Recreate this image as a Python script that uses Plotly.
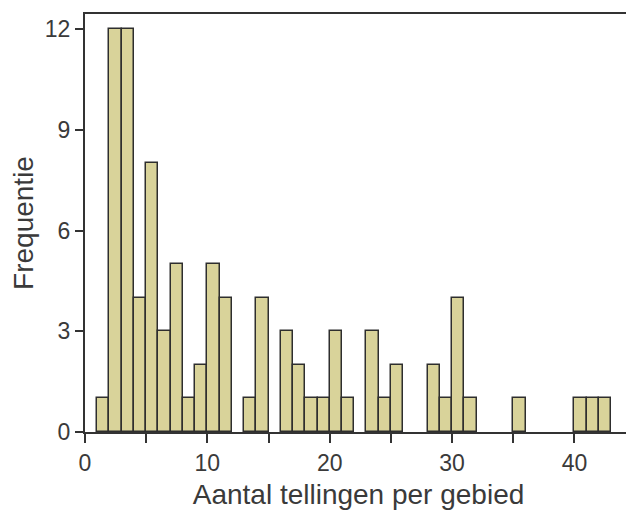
import plotly.graph_objects as go

bin_start = list(range(1, 43))
counts = [1, 12, 12, 4, 8, 3, 5, 1, 2, 5,
          4, 0, 1, 4, 0, 3, 2, 1, 1, 3,
          1, 0, 3, 1, 2, 0, 0, 2, 1, 4,
          1, 0, 0, 0, 1, 0, 0, 0, 0, 1,
          1, 1]
x_tickvals = [0, 5, 10, 15, 20, 25, 30, 35, 40, 45]
x_ticktext = ["0", "", "10", "", "20", "", "30", "", "40", ""]
y_tickvals = [0, 3, 6, 9, 12]

centers = [b + 0.5 for b in bin_start]
heights = [c if c > 0 else None for c in counts]

fig = go.Figure(go.Bar(
    x=centers, y=heights, width=1,
    marker=dict(color="#d9d39a", line=dict(color="#2e2e2e", width=1.5)),
))

font_col = "#3a3a3a"
fig.update_layout(
    width=626, height=505,
    margin=dict(l=77, r=2, t=6, b=81),
    paper_bgcolor="white", plot_bgcolor="white",
    font=dict(family="Liberation Sans, Arial, sans-serif", color=font_col, size=23),
    showlegend=False,
    bargap=0,
)
fig.update_xaxes(
    range=[0, 44.7], tickvals=x_tickvals, ticktext=x_ticktext,
    ticks="outside", ticklen=9, tickwidth=1.5, tickcolor="#333",
    showline=True, linecolor="#333", linewidth=2, mirror=True,
    showgrid=False, zeroline=False, automargin=False,
    tickfont=dict(size=23),
    title=dict(text="Aantal tellingen per gebied", font=dict(size=28), standoff=10),
)
fig.update_yaxes(
    range=[0, 12.45], tickvals=y_tickvals,
    ticks="outside", ticklen=8, tickwidth=1.5, tickcolor="#333",
    showline=True, linecolor="#333", linewidth=2, mirror=True,
    showgrid=False, zeroline=False, automargin=False,
    tickfont=dict(size=23),
    title=dict(text="Frequentie", font=dict(size=28), standoff=5),
)

fig.write_html("out.html")
